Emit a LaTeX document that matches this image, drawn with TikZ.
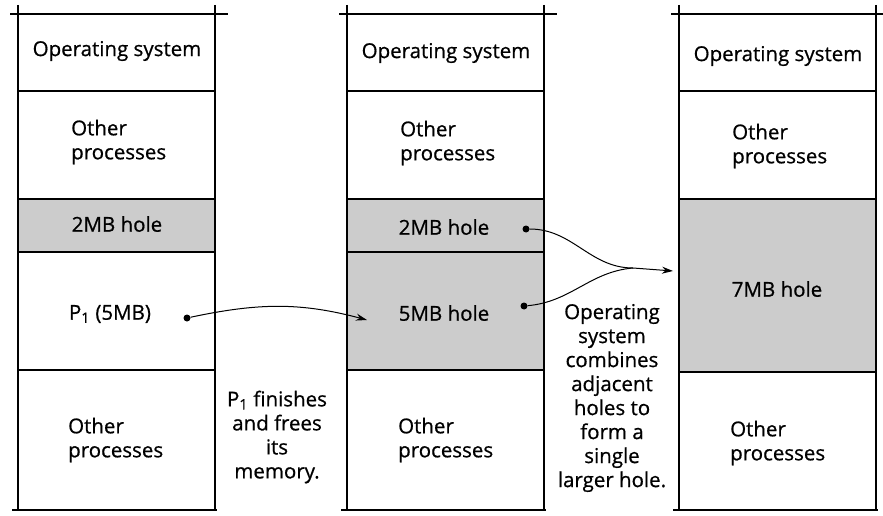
\documentclass[tikz,border=0pt]{standalone}
\usepackage{fontspec}
\setmainfont{Open Sans}
\newfontfamily\boxfont{Open Sans}[FakeBold=0.7]
\usetikzlibrary{arrows.meta}

\tikzset{
    cell/.style={draw, line width=1.3pt},
    hole/.style={cell, fill=black!20},
    lbl/.style={font=\boxfont\fontsize{20.5}{24}\selectfont, inner sep=0pt},
    lbllft/.style={lbl, anchor=west, align=left},
    note/.style={lbl, align=center},
    dot/.style={circle, fill, inner sep=0pt, minimum size=7pt},
    link/.style={line width=1pt},
}

\begin{document}
\begin{tikzpicture}[x=1pt, y=-1pt, >={Stealth[length=11pt, width=7pt]}]
    \useasboundingbox (0,0) rectangle (883,516);

    % before: P1 still running
    \begin{scope}[shift={(18,0)}]
        \draw[hole] (0,199) rectangle (197,252);
        \draw[cell] (-8,14) -- (210,14);
        \draw[cell] (0,5) -- (0,510) (197,5) -- (197,510);
        \draw[cell] (-6,510) -- (199,510);
        \draw[cell] (0,91) -- (197,91);
        \draw[cell] (0,370) -- (197,370);

        \node[lbl] (os1) at (99,51) {Operating system};
        \node[lbllft] (oth1) at (53,142) {Other\\processes};
        \node[lbl] (hl1) at (99,224) {2MB hole};
        \node[lbl] (p1) at (92,314) {P\textsubscript{1} (5MB)};
        \node[dot] (dp1) at (169,318) {};
        \node[lbllft] (otl1) at (50,440) {Other\\processes};
    \end{scope}

    \node[note] (fin) at (277,437) {P\textsubscript{1} finishes\\and frees\\its\\memory.};

    % after: two holes side by side
    \begin{scope}[shift={(347,0)}]
        \draw[hole] (0,199) rectangle (197,370);
        \draw[cell] (-8,14) -- (210,14);
        \draw[cell] (0,5) -- (0,510) (197,5) -- (197,510);
        \draw[cell] (-6,510) -- (199,510);
        \draw[cell] (0,91) -- (197,91);
        \draw[cell] (0,252) -- (197,252);

        \node[lbl] (os2) at (99,53) {Operating system};
        \node[lbllft] (oth2) at (53,143) {Other\\processes};
        \node[lbl] (hl2) at (97,227) {2MB hole};
        \node[lbl] (hl5) at (97,313) {5MB hole};
        \node[dot] (dh2) at (179,229) {};
        \node[dot] (dh5) at (177,306) {};
        \coordinate (tip1) at (20,320);
        \node[lbllft] (otl2) at (51,440) {Other\\processes};
    \end{scope}

    \node[note] (comb) at (612,398) {Operating\\system\\combines\\adjacent\\holes to\\form a\\single\\larger hole.};

    % merged
    \begin{scope}[shift={(679,0)}]
        \draw[hole] (0,199) rectangle (197,372);
        \draw[cell] (-8,14) -- (210,14);
        \draw[cell] (0,5) -- (0,510) (197,5) -- (197,510);
        \draw[cell] (-6,510) -- (199,510);
        \draw[cell] (0,91) -- (197,91);

        \node[lbl] (os3) at (99,56) {Operating system};
        \node[lbllft] (oth3) at (53,146) {Other\\processes};
        \node[lbl] (hl7) at (98,289) {7MB hole};
        \node[lbllft] (otl3) at (51,443) {Other\\processes};
        \coordinate (tip2) at (-6,271);
    \end{scope}

    \coordinate (join) at (633,268);

    \draw[link, ->] (dp1) to[out=12, in=165] (tip1);
    \draw[link] (dh2) to[out=0, in=180] (join);
    \draw[link] (dh5) to[out=5, in=185] (join);
    \draw[link, ->] (join) -- (tip2);
\end{tikzpicture}
\end{document}
